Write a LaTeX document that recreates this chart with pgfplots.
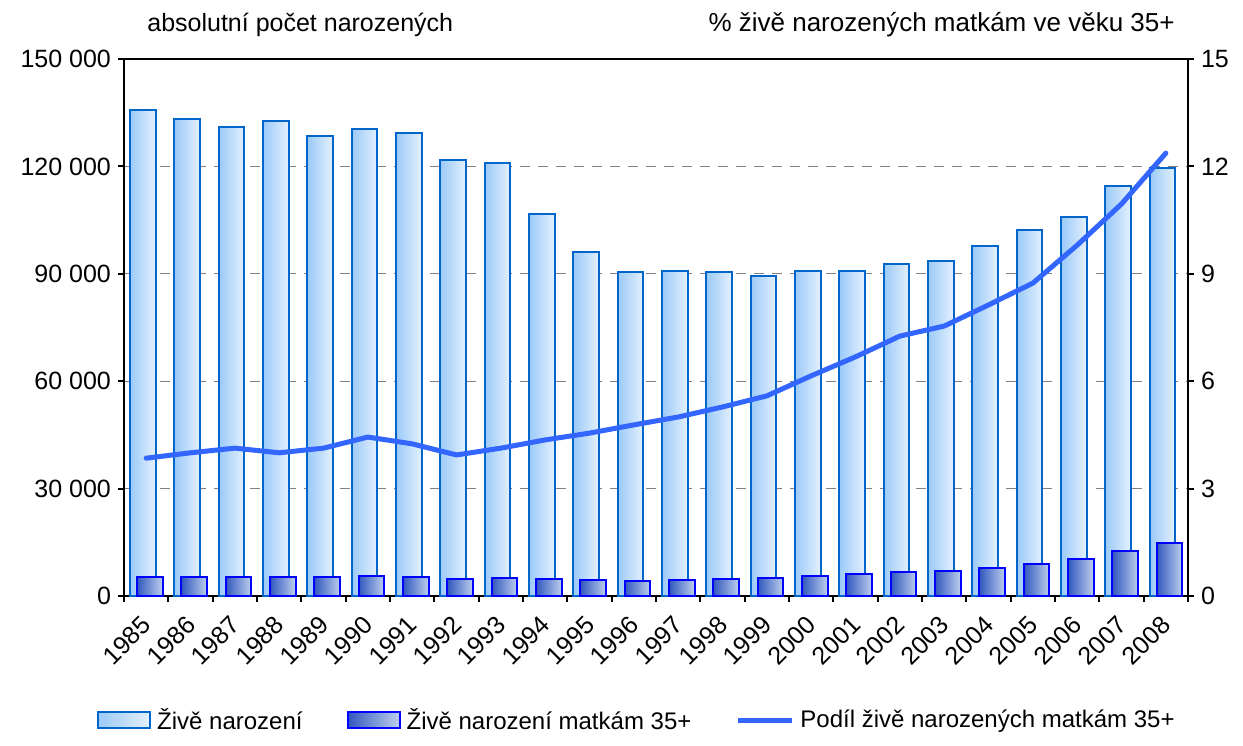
\documentclass[border=0pt]{standalone}
\usepackage{fontspec}
\setmainfont{Liberation Sans}
\usepackage{pgfplots}
\pgfplotsset{compat=1.18}
\definecolor{bigL}{RGB}{155,202,248}
\definecolor{bigR}{RGB}{228,240,254}
\definecolor{bigD}{RGB}{0,102,204}
\definecolor{smL}{RGB}{50,88,190}
\definecolor{smR}{RGB}{190,208,238}
\definecolor{smD}{RGB}{0,0,255}
\definecolor{lineB}{RGB}{51,102,255}
\pgfplotsset{
  barleg/.style={legend image code/.code={\draw[##1] (0pt,-4pt) rectangle (26pt,4pt);}},
  lineleg/.style={legend image code/.code={\draw[##1] (0pt,0pt) -- (27pt,0pt);}},
  bigbar/.style={forget plot, bar shift=-0.075, draw=bigD, line width=1pt, left color=bigL, right color=bigR},
  smallbar/.style={forget plot, bar shift=0.085, draw=smD, line width=1pt, left color=smL, right color=smR},
}
\newcommand\BB[2]{\addplot[bigbar] coordinates {(#1,#2)};}
\newcommand\SB[2]{\addplot[smallbar] coordinates {(#1,#2)};}
\begin{document}
\begin{tikzpicture}
\useasboundingbox (-62pt,-74.5pt) rectangle (559.5pt,298pt);
\begin{axis}[
  name=ax,
  at={(0pt,0pt)}, anchor=south west,
  scale only axis, width=532pt, height=268.5pt,
  xmin=-0.5, xmax=23.5, ymin=0, ymax=150000,
  scaled y ticks=false, scaled x ticks=false,
  axis line style={black, line width=1pt},
  tick style={black, line width=1pt},
  tick align=outside, major tick length=3pt,
  xtick pos=left, ytick pos=left,
  xtick={-0.5,0.5,...,23.5}, xticklabels={,,},
  extra x ticks={0,1,...,23},
  extra x tick labels={1985,1986,1987,1988,1989,1990,1991,1992,1993,1994,1995,1996,1997,1998,1999,2000,2001,2002,2003,2004,2005,2006,2007,2008},
  extra x tick style={major tick length=0pt, grid=none},
  x tick label style={xshift=-3pt, yshift=-9pt, rotate=45, anchor=north east, font=\fontsize{12.5}{14}\selectfont, inner sep=0pt},
  ytick={0,30000,60000,90000,120000,150000},
  yticklabels={0,30 000,60 000,90 000,120 000,150 000},
  y tick label style={font=\fontsize{12.5}{14}\selectfont},
  ymajorgrids,
  grid style={gray, line width=0.6pt, dash pattern=on 5pt off 4pt},
  ybar, bar width=0.58,
  legend style={draw=none, fill=none, at={(axis description cs:0.483,-0.231)}, anchor=center,
    legend columns=3, font=\fontsize{12}{14}\selectfont,
    /tikz/every odd column/.append style={column sep=1pt},
    /tikz/every even column/.append style={column sep=20pt}},
  legend cell align=left,
]
\BB{0}{135881} \BB{1}{133356} \BB{2}{130921} \BB{3}{132667} \BB{4}{128356} \BB{5}{130564}
\BB{6}{129354} \BB{7}{121705} \BB{8}{121025} \BB{9}{106579} \BB{10}{96097} \BB{11}{90446}
\BB{12}{90657} \BB{13}{90535} \BB{14}{89471} \BB{15}{90910} \BB{16}{90715} \BB{17}{92786}
\BB{18}{93685} \BB{19}{97664} \BB{20}{102211} \BB{21}{105831} \BB{22}{114632} \BB{23}{119570}
\SB{0}{5231} \SB{1}{5334} \SB{2}{5407} \SB{3}{5307} \SB{4}{5301} \SB{5}{5500}
\SB{6}{5400} \SB{7}{4795} \SB{8}{4998} \SB{9}{4647} \SB{10}{4372} \SB{11}{4323}
\SB{12}{4533} \SB{13}{4780} \SB{14}{5001} \SB{15}{5591} \SB{16}{6060} \SB{17}{6736}
\SB{18}{7064} \SB{19}{7940} \SB{20}{8933} \SB{21}{10371} \SB{22}{12552} \SB{23}{14791}
\addlegendimage{barleg, draw=bigD, line width=1pt, left color=bigL, right color=bigR}
\addlegendentry{Živě narození}
\addlegendimage{barleg, draw=smD, line width=1pt, left color=smL, right color=smR}
\addlegendentry{Živě narození matkám 35+}
\addlegendimage{lineleg, color=lineB, line width=2.5pt}
\addlegendentry{Podíl živě narozených matkám 35+}
\end{axis}
\begin{axis}[
  at={(0pt,0pt)}, anchor=south west,
  scale only axis, width=532pt, height=268.5pt,
  xmin=-0.5, xmax=23.5, ymin=0, ymax=15,
  axis x line=none, axis y line*=right,
  axis line style={black, line width=1pt, -},
  tick style={black, line width=1pt},
  tick align=outside, major tick length=3pt,
  ytick={0,3,6,9,12,15},
  yticklabels={0,3,6,9,12,15},
  y tick label style={font=\fontsize{12.5}{14}\selectfont},
]
\addplot[color=lineB, line width=2.5pt, line join=round, line cap=round] coordinates {
(0,3.85) (1,4.0) (2,4.13) (3,4.0) (4,4.13) (5,4.44) (6,4.25) (7,3.94)
(8,4.13) (9,4.36) (10,4.55) (11,4.78) (12,5.0) (13,5.28) (14,5.59) (15,6.15)
(16,6.68) (17,7.26) (18,7.54) (19,8.13) (20,8.74) (21,9.8) (22,10.95) (23,12.37)};
\end{axis}
\node[anchor=west, inner sep=0pt, font=\fontsize{12.5}{14}\selectfont] at ([xshift=11.5pt,yshift=17pt]ax.north west) {absolutní počet narozených};
\node[anchor=east, inner sep=0pt, font=\fontsize{13}{15}\selectfont] at ([xshift=-6.5pt,yshift=17pt]ax.north east) {\% živě narozených matkám ve věku 35+};
\end{tikzpicture}
\end{document}
